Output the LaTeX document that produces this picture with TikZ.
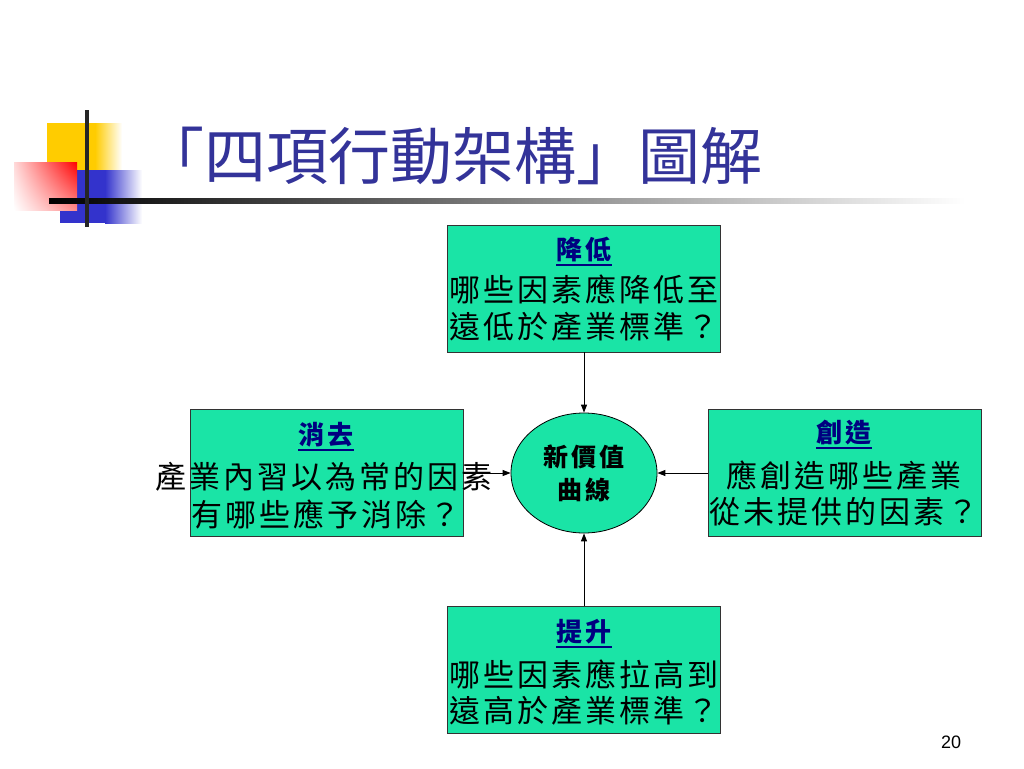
\documentclass[tikz,border=0pt]{standalone}
\usepackage{fontspec}
\setmainfont{Liberation Sans}
\newfontfamily\cjk{Noto Sans CJK TC}
\usetikzlibrary{arrows.meta,shapes.geometric,shadings}
\definecolor{boxfill}{RGB}{26,228,166}
\definecolor{titleblue}{RGB}{51,51,153}
\definecolor{navyblue}{RGB}{0,0,128}
\definecolor{logoyellow}{RGB}{255,204,0}
\definecolor{logoblue}{RGB}{51,51,204}
\newlength\cjkgap
\setlength\cjkgap{0pt}
\makeatletter
\count@="4E00
\loop
  \XeTeXcharclass\count@=1
  \advance\count@ 1
\ifnum\count@<"A000 \repeat
\makeatother
\XeTeXcharclass"FF1F=3
\XeTeXcharclass"300D=3
\XeTeXcharclass"300C=2
\XeTeXinterchartokenstate=1
\XeTeXinterchartoks 1 1 = {\hskip\cjkgap}
\XeTeXinterchartoks 1 3 = {\hskip\cjkgap}
\XeTeXinterchartoks 3 1 = {\hskip\cjkgap}
\tikzset{
  box/.style={draw=black!80, line width=0.8pt, fill=boxfill, minimum width=273pt, minimum height=127pt, inner sep=0pt},
  boxtitle/.style={font=\cjk\bfseries\fontsize{26}{30}\selectfont\setlength\cjkgap{3pt}, text=navyblue, inner sep=0pt},
  boxline/.style={font=\cjk\fontsize{31}{36}\selectfont\setlength\cjkgap{3pt}, inner sep=0pt},
  centertext/.style={font=\cjk\bfseries\fontsize{25}{29}\selectfont\setlength\cjkgap{3pt}, inner sep=0pt},
  conn/.style={-{Triangle[length=8pt,width=6pt]}, line width=1pt},
  uline/.style={draw=navyblue, line width=1.6pt},
}
\begin{document}
\begin{tikzpicture}[x=1pt,y=-1pt]
\useasboundingbox[fill=white] (0,0) rectangle (1024,768);
% logo
\fill[logoyellow] (47,123) rectangle (95,190);
\shade[left color=logoyellow, right color=white] (95,123) rectangle (122,190);
\fill[logoblue] (60,170) rectangle (105,223);
\shade[left color=logoblue, right color=white] (105,170) rectangle (142,223);
\shade[upper left=red!15, upper right=red, lower left=white, lower right=red!45] (14,162) rectangle (77,210);
\shade[left color=black, middle color=gray!70, right color=white] (49,198) rectangle (965,203);
\fill[black!85] (85,110) rectangle (89,227);
% title
\node[font=\cjk\fontsize{62}{68}\selectfont, text=titleblue, inner sep=0pt] (title) at (452,156) {「四項行動架構」圖解};
% boxes
\node[box] (top) at (584,288.5) {};
\node[box] (left) at (326.5,473) {};
\node[box] (right) at (844.5,473) {};
\node[box] (bot) at (584,669.5) {};
\node[ellipse, draw=black, line width=0.8pt, fill=boxfill, minimum width=146pt, minimum height=120pt, inner sep=0pt] (ell) at (584,473) {};
% top box text
\node[boxtitle] (topt) at (584,250) {降低};
\draw[uline] ([yshift=-15pt]topt.west) -- ([yshift=-15pt]topt.east);
\node[boxline] (topa) at (584,289) {哪些因素應降低至};
\node[boxline] (topb) at (584,327) {遠低於產業標準？};
% left box text
\node[boxtitle] (leftt) at (326,435) {消去};
\draw[uline] ([yshift=-15pt]leftt.west) -- ([yshift=-15pt]leftt.east);
\node[boxline] (lefta) at (324,477) {產業內習以為常的因素};
\node[boxline] (leftb) at (326,514) {有哪些應予消除？};
% right box text
\node[boxtitle] (rightt) at (844,433) {創造};
\draw[uline] ([yshift=-15pt]rightt.west) -- ([yshift=-15pt]rightt.east);
\node[boxline] (righta) at (844,476) {應創造哪些產業};
\node[boxline] (rightb) at (844,512) {從未提供的因素？};
% bottom box text
\node[boxtitle] (bott) at (584,632) {提升};
\draw[uline] ([yshift=-15pt]bott.west) -- ([yshift=-15pt]bott.east);
\node[boxline] (bota) at (584,674) {哪些因素應拉高到};
\node[boxline] (botb) at (584,711) {遠高於產業標準？};
% center text
\node[centertext] (c1) at (584,457) {新價值};
\node[centertext] (c2) at (584,490) {曲線};
% connectors
\draw[conn] (top.south) -- (ell.north);
\draw[conn] (bot.north) -- (ell.south);
\draw[conn] (right.west) -- (ell.east);
\draw[conn] (left.east) -- (ell.west);
% page number
\node[font=\fontsize{18}{20}\selectfont, inner sep=0pt] (pnum) at (951,742) {20};
\end{tikzpicture}
\end{document}
